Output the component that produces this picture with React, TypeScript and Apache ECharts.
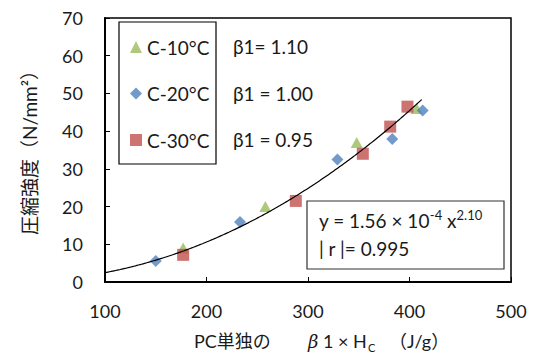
import React, { useEffect, useRef } from "react";
import * as echarts from "echarts";

const xTicks = [100, 200, 300, 400, 500];
const yTicks = [0, 10, 20, 30, 40, 50, 60, 70];

const seriesNames = ["C-10°C", "C-20°C", "C-30°C"];
const betaLabels = ["β1= 1.10", "β1 = 1.00", "β1 = 0.95"];

const c10X = [177, 258, 348, 407];
const c10Y = [9.0, 20.0, 37.0, 46.0];
const c20X = [150, 233, 329, 383, 413];
const c20Y = [5.6, 15.9, 32.5, 37.9, 45.5];
const c30X = [177, 288, 354, 381, 398];
const c30Y = [7.2, 21.5, 34.0, 41.2, 46.5];

// trendline shown in the chart: y = 1.56e-4 x^2.10, drawn from x = 100 to 413
const fitCoef = 1.56e-4;
const fitExp = 2.1;
const fitXStart = 100;
const fitXEnd = 413;

const FONT = "Lato, 'Noto Sans', 'Noto Sans CJK JP', sans-serif";
const TXT = "#1a1a1a";

export default function App() {
  const ref = useRef<HTMLDivElement>(null);
  useEffect(() => {
    if (!ref.current) return;
    const chart = echarts.init(ref.current, null, { renderer: "svg" });
    const fit: number[][] = [];
    for (let x = fitXStart; x <= fitXEnd; x += 3) {
      fit.push([x, fitCoef * Math.pow(x, fitExp)]);
    }
    const zip = (xs: number[], ys: number[]) => xs.map((x, i) => [x, ys[i]]);
    chart.setOption({
      animation: false,
      textStyle: { fontFamily: FONT },
      grid: { left: 105, top: 18, width: 406, height: 264, show: true, borderColor: "#000", borderWidth: 1.5, backgroundColor: "transparent" },
      xAxis: {
        type: "value",
        min: xTicks[0],
        max: xTicks[xTicks.length - 1],
        interval: 100,
        axisLine: { show: true, onZero: false, lineStyle: { color: "#000", width: 2 } },
        axisTick: { show: true, inside: true, length: 5, lineStyle: { color: "#000", width: 1 } },
        axisLabel: { fontSize: 18, color: TXT, margin: 20, fontFamily: FONT },
        splitLine: { show: false },
      },
      yAxis: {
        type: "value",
        min: yTicks[0],
        max: yTicks[yTicks.length - 1],
        interval: 10,
        axisLine: { show: true, onZero: false, lineStyle: { color: "#000", width: 2 } },
        axisTick: { show: true, inside: true, length: 5, lineStyle: { color: "#000", width: 1 } },
        axisLabel: { fontSize: 18, color: TXT, margin: 22, fontFamily: FONT },
        splitLine: { show: false },
      },
      legend: {
        orient: "vertical",
        left: 120,
        top: 22,
        padding: [14, 8, 14, 10],
        itemWidth: 12,
        itemHeight: 12,
        itemGap: 24.5,
        textStyle: { fontSize: 19, lineHeight: 22, color: TXT, fontFamily: FONT },
        data: [
          { name: seriesNames[0], icon: "triangle" },
          { name: seriesNames[1], icon: "diamond" },
          { name: seriesNames[2], icon: "rect" },
        ],
      },
      series: [
        {
          name: seriesNames[0],
          type: "scatter",
          symbol: "triangle",
          symbolSize: [12, 11],
          itemStyle: { color: "#9BBB59" },
          data: zip(c10X, c10Y),
          z: 2,
        },
        {
          name: seriesNames[2],
          type: "scatter",
          symbol: "rect",
          symbolSize: 12,
          itemStyle: { color: "#C0504D" },
          data: zip(c30X, c30Y),
          z: 3,
        },
        {
          name: seriesNames[1],
          type: "scatter",
          symbol: "diamond",
          symbolSize: 12,
          itemStyle: { color: "#4F81BD" },
          data: zip(c20X, c20Y),
          z: 4,
        },
        {
          name: "fit",
          type: "line",
          showSymbol: false,
          symbol: "none",
          smooth: true,
          lineStyle: { color: "#000", width: 1.2 },
          data: fit,
          z: 5,
        },
      ],
      graphic: [
        {
          type: "rect",
          shape: { x: 119, y: 22, width: 97, height: 142 },
          style: { fill: "none", stroke: "#000", lineWidth: 1.2 },
          z: 10,
        },
        ...betaLabels.map((t, i) => ({
          type: "text",
          x: 233,
          y: 46.5 + i * 46.5,
          style: { text: t, fontSize: 19, fill: TXT, fontFamily: FONT, verticalAlign: "middle" },
          z: 10,
        })),
        {
          type: "rect",
          shape: { x: 307, y: 201, width: 197, height: 68 },
          style: { fill: "#fff", stroke: "#333", lineWidth: 1.2 },
          z: 10,
        },
        {
          type: "text",
          x: 319,
          y: 219,
          style: {
            text: "{a|y = 1.56 × 10}{s|-4}{a| x}{s|2.10}",
            verticalAlign: "middle",
            rich: {
              a: { fontSize: 19, fill: TXT, fontFamily: FONT, verticalAlign: "bottom", lineHeight: 22 },
              s: { fontSize: 13, fill: TXT, fontFamily: FONT, verticalAlign: "top", lineHeight: 22 },
            },
          },
          z: 11,
        },
        {
          type: "text",
          x: 319,
          y: 248,
          style: { text: "| r |= 0.995", fontSize: 19, fill: TXT, fontFamily: FONT, verticalAlign: "middle" },
          z: 11,
        },
        {
          type: "text",
          x: 29,
          y: 148,
          rotation: Math.PI / 2,
          style: {
            text: "圧縮強度（N/mm²）",
            fontSize: 19,
            fill: TXT,
            fontFamily: FONT,
            align: "center",
            verticalAlign: "middle",
          },
        },
        {
          type: "text",
          x: 194,
          y: 341,
          style: { text: "PC単独の", fontSize: 18, fill: TXT, fontFamily: FONT, verticalAlign: "middle" },
        },
        {
          type: "text",
          x: 308,
          y: 341,
          style: {
            text: "{b|β}{a| 1 × H}",
            verticalAlign: "middle",
            rich: {
              a: { fontSize: 18, fill: TXT, fontFamily: FONT },
              b: { fontSize: 18, fill: TXT, fontFamily: "'DejaVu Serif', serif", fontStyle: "italic" },
            },
          },
        },
        {
          type: "text",
          x: 368,
          y: 347,
          style: { text: "C", fontSize: 11, fill: TXT, fontFamily: FONT, verticalAlign: "middle" },
        },
        {
          type: "text",
          x: 389,
          y: 341,
          style: { text: "（J/g）", fontSize: 18, fill: TXT, fontFamily: FONT, verticalAlign: "middle" },
        },
      ],
    });
    return () => chart.dispose();
  }, []);
  return <div ref={ref} style={{ position: "absolute", left: 0, top: 0, width: 533, height: 352 }} />;
}
